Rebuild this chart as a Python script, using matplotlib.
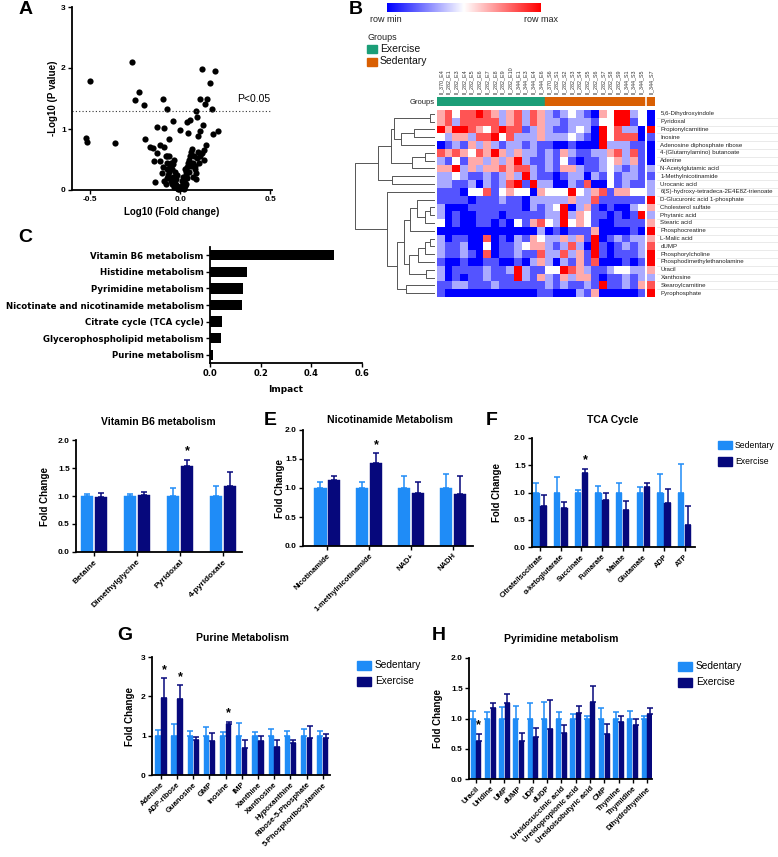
import numpy as np
import matplotlib
matplotlib.use("Agg")
import matplotlib.pyplot as plt
from matplotlib.colors import LinearSegmentedColormap
from matplotlib.patches import Rectangle
from matplotlib.transforms import blended_transform_factory

plt.rcParams["font.family"] = ["Liberation Sans", "DejaVu Sans"]

W, H = 778, 857
C_SED = "#1f8cf7"
C_EXE = "#06087c"
C_GREEN = "#1b9e77"
C_ORANGE = "#d95f02"

#%%
# A: volcano plot
volcano_fc = [-0.5, -0.524, -0.515, -0.361, -0.269, -0.226, -0.25, -0.198, -0.193, -0.096,
              -0.074, -0.126, -0.089, -0.037, 0.0, 0.12, 0.194, 0.167, 0.111, 0.152,
              0.139, 0.178, 0.089, 0.096, 0.056, 0.037, 0.126, 0.111, 0.098, 0.046,
              0.213, 0.181, 0.143, 0.133, -0.139, -0.167, -0.152, -0.111, -0.089, -0.13,
              -0.059, -0.144, -0.111, -0.093, -0.074,
              -0.08, -0.07, -0.07, -0.06, -0.065, -0.055, -0.05, -0.045, -0.04, -0.035,
              -0.03, -0.025, -0.02, -0.015, -0.01, -0.03, -0.02, -0.035, -0.025, -0.075,
              -0.09, -0.06, -0.05, -0.045, -0.005, 0.0, -0.08, -0.1,
              0.01, 0.015, 0.02, 0.025, 0.03, 0.035, 0.04, 0.045, 0.05, 0.055,
              0.06, 0.065, 0.07, 0.075, 0.08, 0.085, 0.09, 0.095, 0.1, 0.105,
              0.11, 0.12, 0.13, 0.04, 0.03, 0.05, 0.06, 0.07, 0.02, 0.025,
              0.015, 0.09, -0.012, 0.005, 0.008, -0.04, -0.055, 0.012, 0.018, 0.028]
volcano_p = [1.79, 0.86, 0.79, 0.77, 2.10, 1.61, 1.47, 1.40, 0.84, 1.49,
             1.32, 1.03, 1.01, 1.13, 0.98, 1.98, 1.95, 1.75, 1.49, 1.49,
             1.41, 1.33, 1.30, 1.20, 1.14, 1.12, 1.07, 0.97, 0.89, 0.94,
             0.96, 0.91, 0.74, 0.66, 0.13, 0.71, 0.69, 0.74, 0.71, 0.60,
             0.83, 0.48, 0.48, 0.38, 0.55,
             0.55, 0.45, 0.35, 0.30, 0.25, 0.20, 0.15, 0.10, 0.42, 0.05,
             0.12, 0.08, 0.03, 0.06, 0.02, 0.30, 0.25, 0.50, 0.18, 0.20,
             0.15, 0.55, 0.45, 0.35, 0.01, 0.05, 0.10, 0.28,
             0.03, 0.08, 0.12, 0.18, 0.25, 0.30, 0.38, 0.45, 0.50, 0.55,
             0.62, 0.68, 0.45, 0.55, 0.35, 0.40, 0.28, 0.52, 0.62, 0.45,
             0.55, 0.60, 0.50, 0.20, 0.10, 0.30, 0.40, 0.22, 0.02, 0.35,
             0.22, 0.18, 0.04, 0.03, 0.14, 0.22, 0.38, 0.06, 0.16, 0.07]

# B: heatmap
col_names = ["II_370_E4", "II_282_E1", "II_282_E3", "II_282_E4", "II_282_E5", "II_282_E6",
             "II_282_E7", "II_282_E8", "II_282_E9", "II_282_E10", "II_344_E1", "II_344_E3",
             "II_344_E4", "II_344_E6", "II_370_S6", "II_282_S1", "II_282_S2", "II_282_S3",
             "II_282_S4", "II_282_S5", "II_282_S6", "II_282_S7", "II_282_S8", "II_282_S9",
             "II_344_S1", "II_344_S3", "II_344_S5", "II_344_S7"]
col_groups = ["Exercise"] * 14 + ["Sedentary"] * 14
row_names = ["5,6-Dihydroxyindole", "Pyridoxal", "Propionylcarnitine", "Inosine",
             "Adenosine diphosphate ribose", "4-(Glutamylamino) butanoate", "Adenine",
             "N-Acetylglutamic acid", "1-Methylnicotinamide", "Urocanic acid",
             "6(S)-hydroxy-tetradeca-2E4E8Z-trienoate", "D-Glucuronic acid 1-phosphate",
             "Cholesterol sulfate", "Phytanic acid", "Stearic acid", "Phosphocreatine",
             "L-Malic acid", "dUMP", "Phosphorylcholine", "Phosphodimethylethanolamine",
             "Uracil", "Xanthosine", "Stearoylcarnitine", "Pyrophosphate"]
heat = np.array([
    [1, 2, 0, 2, 2, 3, 2, 1, -1, 1, 2, -1, 2, 1, -1, -2, -1, 0, -1, -2, -3, 1, 0, 3, 3, -1, 0, -3],
    [1, 2, -1, 2, 2, 2, 2, 2, -1, 1, 2, -1, 2, 1, -1, -1, -2, -1, -1, -1, -2, 0, 0, 3, 3, -2, 0, -3],
    [3, 1, 3, 3, 2, 1, 0, 2, 3, 2, 2, -2, -1, 1, -1, -2, -2, -1, 0, -1, -3, 3, 0, 2, -1, -1, -3, 3],
    [0, -1, 1, 1, -1, 2, 2, 3, 0, 2, -1, -1, -1, 1, -1, -1, -1, 0, -1, -2, -3, 3, 0, 2, 2, 2, -3, -2],
    [-3, -2, -1, -2, 1, -1, 1, -1, -2, -1, -1, -2, -1, -2, -2, -3, -3, -2, -3, -3, -3, 3, -1, -1, -1, -2, -2, -3],
    [2, 1, 2, 1, 0, 2, 1, 3, 1, -1, 1, -1, -1, -2, -1, -2, 1, -1, -2, -2, -1, -1, 1, 2, -1, 2, -2, -3],
    [-1, -2, 0, -2, 1, 1, -1, 1, -1, 1, 3, -1, -2, -2, -1, -2, 0, -2, -3, -2, -2, -1, 0, 1, -1, 1, -2, -3],
    [1, 1, 3, -1, 1, -1, 1, 1, 2, 1, 2, 2, -1, -2, -1, -2, 1, 1, -1, -2, -2, -1, 0, -1, -2, -1, -2, -1],
    [-1, -1, 0, -1, -2, -2, -1, -2, -1, 1, -1, 3, -1, -2, -2, -3, -2, -1, -1, -3, -1, -2, 0, -2, -1, -1, -2, -2],
    [-1, -1, -2, -2, -1, -3, -1, -2, -1, 2, 3, -2, 3, -1, -1, -3, -3, -1, -2, 2, -3, -3, 0, -2, -1, -2, -2, -1],
    [-2, -2, -2, -3, 0, 0, 2, -2, 0, 1, 0, 0, -3, 1, 0, 0, 0, 3, 0, -1, 1, 2, -2, 1, 1, 0, 0, -1],
    [-2, -2, -2, -2, -3, -2, -2, -2, -1, -2, -2, -3, -1, -1, -1, -1, -1, 1, -1, -1, 2, -2, -2, -2, -2, -2, -2, 3],
    [-1, -3, -3, -3, -2, -2, -2, -2, -2, -2, -2, -3, -1, -2, -1, 0, 3, -3, -1, 1, -2, -3, -2, -3, -3, -1, 0, 1],
    [-1, -3, -2, -3, -3, -2, -2, -2, -3, -2, -2, -2, -2, -2, -1, -1, 3, -1, 1, 0, -2, -2, -3, -2, -3, -2, 3, -1],
    [0, -3, -2, -3, -3, -2, -2, -3, -2, -3, 0, -2, 1, 2, 0, -1, 3, 0, 1, 0, -2, -3, -3, -2, -2, -2, -2, 1],
    [-3, -3, -3, -3, -3, -3, -3, -3, -3, -3, -3, -3, -3, -1, -3, -2, -3, -2, -2, -2, 1, -3, -3, -3, -3, -2, -3, 3],
    [-1, -3, -2, -2, -3, -3, 2, -3, -2, -3, -1, -2, 1, 0, -1, -1, 1, -1, 1, -2, 3, -3, -2, -1, -2, -1, -1, 1],
    [-1, -2, -2, -1, -3, -3, 0, -3, -2, -2, -1, 0, 1, 1, -1, -2, -1, 2, -1, -3, 3, -2, -3, -2, -1, -2, -1, 2],
    [-1, -2, -2, -1, -2, -3, 2, -3, -2, -2, -1, -2, -2, 2, -1, -1, 2, -1, 1, -2, 3, -2, -3, -2, -2, -2, -1, 3],
    [-2, -3, -3, -2, -3, -3, -2, -2, -3, -3, -2, -3, -1, 1, -1, -3, -1, -2, 1, -2, 2, -3, -3, -3, -2, -3, -2, 3],
    [-1, -3, -2, -2, -2, -2, -1, -2, -2, -1, 3, -1, -2, -2, 0, 0, 3, 2, 1, -1, -2, -2, -1, 0, 0, -1, -1, 1],
    [-1, -3, -2, -3, -2, -2, -1, -2, -2, -2, 3, -1, -2, 1, -1, -2, 1, -1, 1, 1, -2, -3, -2, -2, -1, -2, -1, -1],
    [-2, -2, -1, -1, -2, -2, -2, -1, -2, -2, -2, -2, -2, -2, -1, -2, -1, -2, -2, -1, -2, 3, -2, -2, -1, -2, 1, 2],
    [-2, -3, -3, -3, -3, -3, -3, -3, -3, -3, -3, -3, -3, -2, -2, -3, -3, -3, -1, -2, 1, -3, -3, -3, -3, -3, -2, 3],
])
# row dendrogram: (left, right, height), new nodes numbered from 24 upwards
linkage = [(0, 1, 0.05), (2, 3, 0.25), (25, 4, 0.42), (24, 26, 0.50), (5, 6, 0.12),
           (28, 7, 0.28), (27, 29, 0.55), (8, 9, 0.53), (30, 31, 0.71),
           (12, 13, 0.05), (33, 14, 0.12), (11, 34, 0.22), (35, 15, 0.30), (16, 17, 0.05),
           (37, 18, 0.12), (38, 19, 0.20), (20, 21, 0.10), (39, 40, 0.32), (36, 41, 0.38),
           (22, 23, 0.35), (42, 43, 0.47), (10, 44, 0.60), (32, 45, 1.00)]

# C: pathway impact
pathways = ["Vitamin B6 metabolism", "Histidine metabolism", "Pyrimidine metabolism",
            "Nicotinate and nicotinamide metabolism", "Citrate cycle (TCA cycle)",
            "Glycerophospholipid metabolism", "Purine metabolism"]
impact = [0.49, 0.148, 0.13, 0.128, 0.047, 0.045, 0.01]

# D-H: fold change bars
b6_names = ["Betaine", "Dimethylglycine", "Pyridoxal", "4-pyridoxate"]
b6_sed, b6_sed_err = [1.0, 1.0, 1.0, 1.0], [0.03, 0.04, 0.15, 0.18]
b6_exe, b6_exe_err = [0.99, 1.01, 1.53, 1.17], [0.06, 0.06, 0.12, 0.25]
b6_star = [2]

nic_names = ["Nicotinamide", "1-methylnicotinamide", "NAD+", "NADH"]
nic_sed, nic_sed_err = [1.0, 1.0, 1.0, 1.0], [0.10, 0.10, 0.20, 0.24]
nic_exe, nic_exe_err = [1.14, 1.43, 0.91, 0.89], [0.06, 0.17, 0.19, 0.31]
nic_star = [1]

tca_names = ["Citrate/Isocitrate", "α-ketoglutarate", "Succinate", "Fumarate", "Malate",
             "Glutamate", "ADP", "ATP"]
tca_sed, tca_sed_err = [1.0] * 8, [0.18, 0.29, 0.05, 0.12, 0.17, 0.10, 0.34, 0.53]
tca_exe = [0.75, 0.72, 1.35, 0.87, 0.68, 1.11, 0.80, 0.40]
tca_exe_err = [0.20, 0.11, 0.09, 0.13, 0.16, 0.07, 0.27, 0.36]
tca_star = [2]

pur_names = ["Adenine", "ADP-ribose", "Guanosine", "GMP", "Inosine", "IMP", "Xanthine",
             "Xanthosine", "Hypoxanthine", "Ribose-5-Phosphate", "5-Phosphoribosylamine"]
pur_sed = [1.0] * 11
pur_sed_err = [0.15, 0.29, 0.11, 0.22, 0.10, 0.31, 0.09, 0.16, 0.11, 0.18, 0.13]
pur_exe = [1.95, 1.93, 0.90, 0.87, 1.29, 0.68, 0.87, 0.70, 0.81, 0.95, 0.93]
pur_exe_err = [0.51, 0.35, 0.07, 0.19, 0.07, 0.22, 0.11, 0.18, 0.09, 0.30, 0.10]
pur_star = [0, 1, 4]

pyr_names = ["Uracil", "Uridine", "UMP", "dUMP", "UDP", "dUDP", "Ureidosuccinic acid",
             "Ureidopropionic acid", "Ureidoisobutyric acid", "CMP", "Thymine", "Thymidine",
             "Dihydrothymine"]
pyr_sed = [1.0] * 13
pyr_sed_err = [0.12, 0.10, 0.19, 0.20, 0.26, 0.28, 0.11, 0.08, 0.04, 0.17, 0.10, 0.12, 0.04]
pyr_exe = [0.62, 1.18, 1.25, 0.62, 0.69, 0.82, 0.76, 1.09, 1.27, 0.74, 0.95, 0.90, 1.07]
pyr_exe_err = [0.13, 0.08, 0.16, 0.14, 0.15, 0.48, 0.13, 0.11, 0.26, 0.17, 0.09, 0.10, 0.10]
pyr_star = [0]


#%%
fig = plt.figure(figsize=(W / 100, H / 100), dpi=100)


def px(x0, y0, x1, y1):
    return [x0 / W, 1 - y1 / H, (x1 - x0) / W, (y1 - y0) / H]


def ftext(x, y, s, **kw):
    fig.text(x / W, 1 - y / H, s, **kw)


def prism_axes(ax, size=6):
    for side in ["top", "right"]:
        ax.spines[side].set_visible(False)
    for side in ["left", "bottom"]:
        ax.spines[side].set_linewidth(1.3)
    ax.tick_params(direction="out", length=3, width=1, labelsize=size, pad=1.5)
    for lbl in ax.get_xticklabels() + ax.get_yticklabels():
        lbl.set_fontweight("bold")


def letter(x, y, s):
    ftext(x, y, s, fontsize=14, fontweight="bold", va="center", ha="left")


#%%
# A
ax = fig.add_axes(px(72, 7, 272, 190))
ax.scatter(volcano_fc, volcano_p, s=20, color="black", linewidths=0, clip_on=False)
ax.axhline(-np.log10(0.05), color="#333333", lw=0.8, ls=(0, (1, 2)))
ax.set_xlim(-0.6, 0.51)
ax.set_ylim(0, 3)
ax.set_xticks([-0.5, 0.0, 0.5])
ax.set_xticklabels(["-0.5", "0.0", "0.5"])
ax.set_yticks([0, 1, 2, 3])
prism_axes(ax, 6)
ax.set_xlabel("Log10 (Fold change)", fontsize=7, fontweight="bold", labelpad=3)
ax.set_ylabel("-Log10 (P value)", fontsize=7, fontweight="bold", labelpad=2)
ftext(237, 99, "P<0.05", fontsize=7.5, va="center", ha="left")
letter(19, 10, "A")

#%%
# B
cmap = LinearSegmentedColormap.from_list("rowminmax", ["#0000ff", "#ffffff", "#ff0000"])
n_rows, n_cols = heat.shape
gap = 0.25

ax_cb = fig.add_axes(px(387, 3, 541, 12))
ax_cb.imshow(np.linspace(0, 1, 256)[None, :], cmap=cmap, aspect="auto")
ax_cb.axis("off")
ftext(386, 19, "row min", fontsize=6.5, ha="center", va="center", color="#222222")
ftext(541, 19, "row max", fontsize=6.5, ha="center", va="center", color="#222222")

ftext(367, 38, "Groups", fontsize=6.5, va="center", color="#222222")
for k, (name, col) in enumerate([("Exercise", C_GREEN), ("Sedentary", C_ORANGE)]):
    y0 = 45 + k * 12.5
    fig.patches.append(Rectangle((367 / W, 1 - (y0 + 8) / H), 10 / W, 8 / H,
                                 transform=fig.transFigure, color=col))
    ftext(380, y0 + 4, name, fontsize=7.5, va="center", color="#111111")

col_x = np.arange(n_cols) + np.where(np.arange(n_cols) == n_cols - 1, gap, 0.0)
xmax = n_cols + gap

ax_h = fig.add_axes(px(437, 110, 655, 297))
main = n_cols - 1
ax_h.pcolormesh(np.arange(main + 1), np.arange(n_rows + 1), heat[:, :main],
                cmap=cmap, vmin=-3, vmax=3)
ax_h.pcolormesh([col_x[-1], col_x[-1] + 1], np.arange(n_rows + 1), heat[:, main:],
                cmap=cmap, vmin=-3, vmax=3)
ax_h.set_xlim(0, xmax)
ax_h.set_ylim(n_rows, 0)
ax_h.axis("off")
tr = blended_transform_factory(ax_h.transAxes, ax_h.transData)
for i, name in enumerate(row_names):
    ax_h.text(1.025, i + 0.5, name, transform=tr, fontsize=4.4, va="center", ha="left",
              color="#222222")
for i in range(1, n_rows):
    ax_h.plot([1.01, 1.57], [i, i], transform=tr, color="#e2e2e2", lw=0.5, clip_on=False)

ax_g = fig.add_axes(px(437, 97, 655, 106))
group_colors = [C_GREEN if g == "Exercise" else C_ORANGE for g in col_groups]
ax_g.bar(col_x + 0.5, 1, width=1, color=group_colors, edgecolor=group_colors, linewidth=0.3)
ax_g.set_xlim(0, xmax)
ax_g.set_ylim(0, 1)
ax_g.axis("off")
for x, name in zip(col_x, col_names):
    ax_g.text(x + 0.5, 1.35, name, rotation=90, fontsize=3.9, ha="center", va="bottom",
              color="#333333")
ftext(435, 102, "Groups", fontsize=5.5, ha="right", va="center", color="#222222")

# dendrogram
ax_d = fig.add_axes(px(352, 110, 437, 297))
node_y = {i: i + 0.5 for i in range(n_rows)}
node_h = {i: 0.0 for i in range(n_rows)}
for k, (a, b, h) in enumerate(linkage):
    ax_d.plot([node_h[a], h, h, node_h[b]], [node_y[a], node_y[a], node_y[b], node_y[b]],
              color="#555555", lw=0.7)
    node_y[n_rows + k] = (node_y[a] + node_y[b]) / 2
    node_h[n_rows + k] = h
ax_d.set_xlim(1.038, -0.038)
ax_d.set_ylim(n_rows, 0)
ax_d.axis("off")
letter(349, 9, "B")

#%%
# C
ax = fig.add_axes(px(210, 247, 362, 363))
yc = np.arange(len(pathways))
ax.barh(yc, impact, height=0.62, color="black")
ax.set_ylim(len(pathways) - 0.5, -0.5)
ax.set_xlim(0, 0.6)
ax.set_yticks(yc)
ax.set_yticklabels(pathways)
ax.set_xticks([0.0, 0.2, 0.4, 0.6])
prism_axes(ax, 6)
for lbl in ax.get_yticklabels() + ax.get_xticklabels():
    lbl.set_family("DejaVu Sans")
ax.tick_params(axis="y", labelsize=6.2)
ax.set_xlabel("Impact", fontsize=6.5, fontweight="bold", labelpad=5, family="DejaVu Sans")
letter(18, 237, "C")


#%%
def fold_panel(rect, names, sed, sed_err, exe, exe_err, stars, xlim, width, yticks,
               ylim, label_size=5.5):
    ax = fig.add_axes(rect)
    n = len(names)
    x = np.arange(n)
    off = width * 0.56
    zeros = np.zeros(n)
    for xs, v, e, c in [(x - off, sed, sed_err, C_SED), (x + off, exe, exe_err, C_EXE)]:
        ax.bar(xs, v, width, color=c, edgecolor=c, linewidth=0.3, zorder=2)
        ax.errorbar(xs, v, yerr=[zeros, e], fmt="none", ecolor=c, elinewidth=1.1,
                    capsize=2.2, capthick=1.1, zorder=1)
    for i in stars:
        ax.annotate("*", (x[i] + off, exe[i] + exe_err[i]), xytext=(0, 1.5),
                    textcoords="offset points", ha="center", va="bottom", fontsize=9,
                    fontweight="bold")
    ax.set_xlim(*xlim)
    ax.set_ylim(*ylim)
    ax.set_yticks(yticks)
    ax.set_xticks(x)
    ax.set_xticklabels(names, rotation=45, ha="right", rotation_mode="anchor")
    prism_axes(ax, 6)
    ax.tick_params(axis="x", labelsize=label_size)
    return ax


def ylabel_at(ax, x_px, rect):
    ax.set_ylabel("Fold Change", fontsize=7, fontweight="bold")
    ax.yaxis.set_label_coords((x_px - rect[0] * W) / (rect[2] * W), 0.5)


def legend_at(x, y, size=7.3, text_gap=18):
    for k, (name, col) in enumerate([("Sedentary", C_SED), ("Exercise", C_EXE)]):
        y0 = y + k * 16
        fig.patches.append(Rectangle((x / W, 1 - (y0 + 8.5) / H), 14 / W, 8.5 / H,
                                     transform=fig.transFigure, color=col))
        ftext(x + text_gap, y0 + 4, name, fontsize=size, va="center")


ticks2 = [0.0, 0.5, 1.0, 1.5, 2.0]

r = px(76, 440, 242, 552)
ax = fold_panel(r, b6_names, b6_sed, b6_sed_err, b6_exe, b6_exe_err, b6_star,
                (-0.42, 3.44), 0.29, ticks2, (0, 2.0), label_size=6)
ylabel_at(ax, 50, r)
ftext(158, 422, "Vitamin B6 metabolism", fontsize=7.5, fontweight="bold", ha="center",
      va="center")

r = px(303, 430, 473, 546)
ax = fold_panel(r, nic_names, nic_sed, nic_sed_err, nic_exe, nic_exe_err, nic_star,
                (-0.58, 3.48), 0.29, ticks2, (0, 2.0))
ylabel_at(ax, 285, r)
ftext(390, 420, "Nicotinamide Metabolism", fontsize=7.5, fontweight="bold", ha="center",
      va="center")
letter(264, 421, "E")

r = px(532, 438, 695, 547)
ax = fold_panel(r, tca_names, tca_sed, tca_sed_err, tca_exe, tca_exe_err, tca_star,
                (-0.39, 7.5), 0.31, ticks2, (0, 2.0), label_size=5.3)
ylabel_at(ax, 502, r)
ftext(613, 420, "TCA Cycle", fontsize=7.5, fontweight="bold", ha="center", va="center")
legend_at(718, 441, size=6.2, text_gap=17)
letter(486, 421, "F")

r = px(152, 657, 330, 775)
ax = fold_panel(r, pur_names, pur_sed, pur_sed_err, pur_exe, pur_exe_err, pur_star,
                (-0.55, 10.45), 0.33, [0, 1, 2, 3], (0, 3))
ylabel_at(ax, 135, r)
ftext(242, 638, "Purine Metabolism", fontsize=7.5, fontweight="bold", ha="center",
      va="center")
legend_at(357, 661)
letter(117, 635, "G")

r = px(469, 658, 652, 779)
ax = fold_panel(r, pyr_names, pyr_sed, pyr_sed_err, pyr_exe, pyr_exe_err, pyr_star,
                (-0.49, 12.35), 0.36, ticks2, (0, 2.0))
ylabel_at(ax, 443, r)
ftext(561, 639, "Pyrimidine metabolism", fontsize=7.5, fontweight="bold", ha="center",
      va="center")
legend_at(678, 662)
letter(432, 635, "H")

fig.savefig("out.png", dpi=100)
